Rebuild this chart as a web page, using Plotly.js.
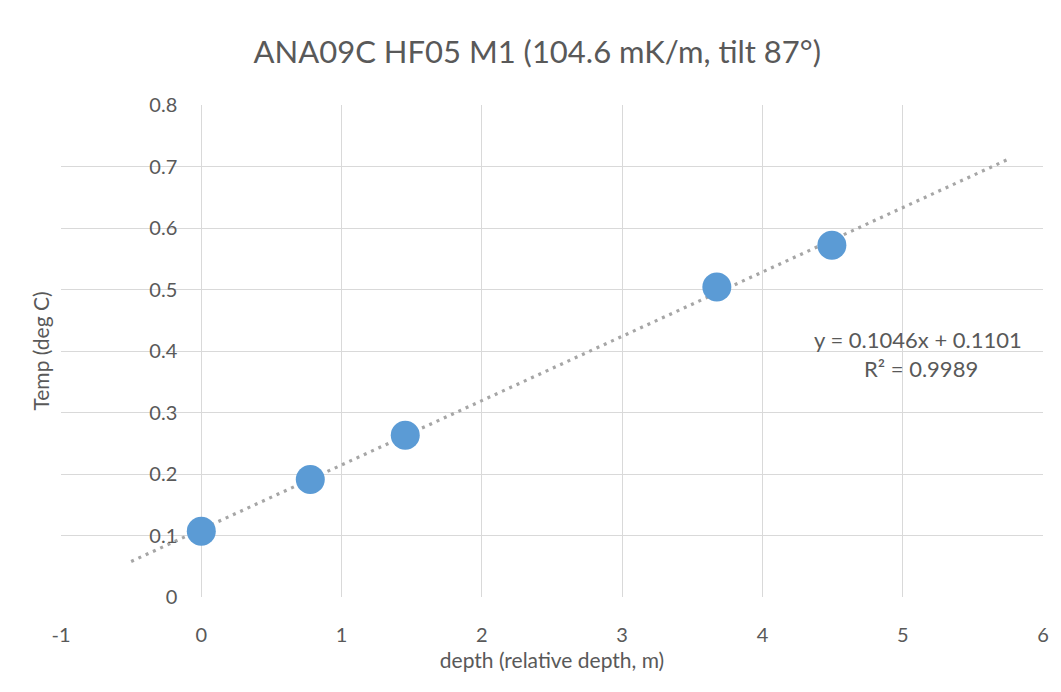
<!DOCTYPE html>
<html>
<head>
<meta charset="utf-8">
<script src="https://cdn.plot.ly/plotly-3.0.1.min.js"></script>
<style>html,body{margin:0;padding:0;background:#fff;}#chart{width:1061px;height:692px;}</style>
</head>
<body>
<div id="chart"></div>
<script>
// Data
var depth = [0, 0.777, 1.454, 3.675, 4.495];
var temp = [0.107, 0.191, 0.263, 0.504, 0.572];
// Trendline (linear, as labelled) and its drawn extent
var trendSlope = 0.1046;
var trendIntercept = 0.1101;
var trendRSquared = 0.9989;
var trendExtent = [-0.5, 5.75];
var xTicks = [-1, 0, 1, 2, 3, 4, 5, 6];
var yTicks = [0, 0.1, 0.2, 0.3, 0.4, 0.5, 0.6, 0.7, 0.8];

var trendY = trendExtent.map(function (x) { return trendSlope * x + trendIntercept; });

var fontFam = 'Lato, "Open Sans", "Liberation Sans", sans-serif';
var grey = '#595959';

var traces = [
  {
    x: trendExtent, y: trendY, type: 'scatter', mode: 'lines',
    line: {color: '#A6A6A6', width: 3.2, dash: '3px,5px'},
    hoverinfo: 'skip', showlegend: false
  },
  {
    x: depth, y: temp, type: 'scatter', mode: 'markers',
    marker: {color: '#5B9BD5', size: 29, line: {width: 0}},
    showlegend: false
  }
];

var layout = {
  width: 1061, height: 692,
  paper_bgcolor: '#ffffff', plot_bgcolor: '#ffffff',
  margin: {l: 61, r: 18, t: 105, b: 95, pad: 0},
  font: {family: fontFam, color: grey, size: 20},
  title: {
    text: 'ANA09C HF05 M1 (104.6 mK/m, tilt 87°)',
    font: {family: fontFam, size: 31, color: grey},
    x: 0.485, xanchor: 'center', xref: 'paper',
    y: 1 - 52 / 692, yanchor: 'middle', yref: 'container'
  },
  xaxis: {
    range: [-1, 6], tickvals: xTicks, ticktext: xTicks.map(String),
    showgrid: true, gridcolor: '#D9D9D9', gridwidth: 1,
    zeroline: false, showline: false, ticks: '',
    ticklabelstandoff: 24,
    tickfont: {family: fontFam, size: 20, color: grey},
    title: {text: 'depth (relative depth, m)', font: {family: fontFam, size: 21, color: grey}, standoff: 8},
    automargin: false
  },
  yaxis: {
    range: [0, 0.8], tickvals: yTicks,
    showgrid: true, gridcolor: '#D9D9D9', gridwidth: 1,
    zeroline: false, showline: false, ticks: '', showticklabels: false,
    title: {text: 'Temp (deg C)', font: {family: fontFam, size: 21, color: grey}, standoff: 4},
    automargin: false
  },
  yaxis2: {
    overlaying: 'y', matches: 'y', anchor: 'free', position: 1 / 7, side: 'left',
    range: [0, 0.8], tickvals: yTicks, ticktext: yTicks.map(String),
    showgrid: false, zeroline: false, showline: false, ticks: '',
    ticklabelstandoff: 24,
    tickfont: {family: fontFam, size: 20, color: grey},
    automargin: false
  },
  annotations: [
    {
      x: 5.11, y: 0.418, xref: 'x', yref: 'y', showarrow: false,
      text: 'y = ' + trendSlope.toFixed(4) + 'x + ' + trendIntercept.toFixed(4),
      font: {family: fontFam, size: 22, color: grey}, xanchor: 'center', yanchor: 'middle'
    },
    {
      x: 5.13, y: 0.371, xref: 'x', yref: 'y', showarrow: false,
      text: 'R² = ' + trendRSquared.toFixed(4),
      font: {family: fontFam, size: 22, color: grey}, xanchor: 'center', yanchor: 'middle'
    }
  ]
};

// dummy trace to activate yaxis2 tick labels
traces.push({x: [null], y: [null], yaxis: 'y2', type: 'scatter', mode: 'markers', showlegend: false, hoverinfo: 'skip'});

Plotly.newPlot('chart', traces, layout, {displayModeBar: false, staticPlot: true});
</script>
</body>
</html>
